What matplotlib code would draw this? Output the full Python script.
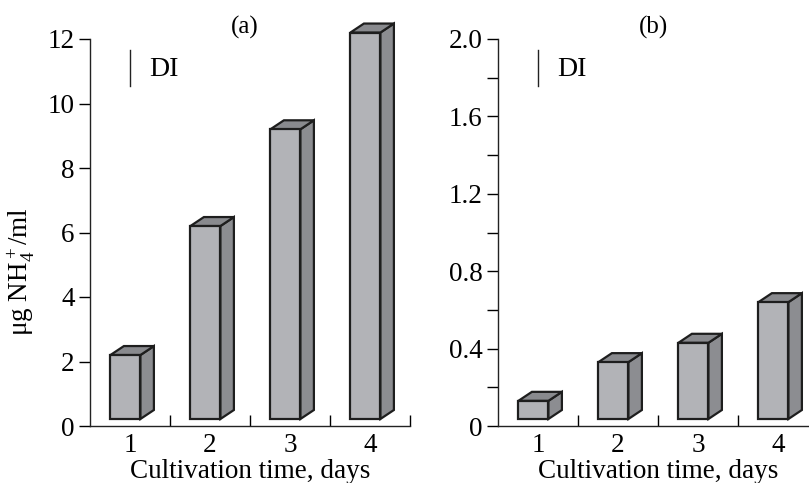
import numpy as np
import matplotlib.pyplot as plt
from matplotlib.patches import Polygon

plt.rcParams['font.family'] = ['Liberation Serif', 'DejaVu Serif']
plt.rcParams['mathtext.fontset'] = 'custom'
plt.rcParams['mathtext.rm'] = 'Liberation Serif'
plt.rcParams['mathtext.it'] = 'Liberation Serif:italic'

days = [1, 2, 3, 4]
nh4_a = [2.2, 6.2, 9.2, 12.2]
nh4_b = [0.13, 0.33, 0.43, 0.64]
yticks_a = [0, 2, 4, 6, 8, 10, 12]
yticks_b = [0, 0.4, 0.8, 1.2, 1.6, 2.0]

FRONT = '#b2b3b7'
SIDE = '#8c8d91'
TOP = '#898a8e'
EDGE = '#1e1e1e'

W, H = 809, 483
fig = plt.figure(figsize=(W / 100, H / 100), dpi=100)


def bar3d(ax, x, val, ymax, ax_w_px, ax_h_px):
    # pixel sizes converted into data units
    xpp = 4.0 / ax_w_px
    ypp = ymax / ax_h_px
    x0 = x - 0.245
    x1 = x + 0.13
    dx = 13.5 * xpp
    dy = 9 * ypp
    base = 7 * ypp
    kw = dict(edgecolor=EDGE, linewidth=1.6, joinstyle='miter', clip_on=False)
    ax.add_patch(Polygon([(x1, base), (x1 + dx, base + dy), (x1 + dx, val + dy), (x1, val)],
                         facecolor=SIDE, **kw))
    ax.add_patch(Polygon([(x0, val), (x0 + dx, val + dy), (x1 + dx, val + dy), (x1, val)],
                         facecolor=TOP, **kw))
    ax.add_patch(Polygon([(x0, base), (x1, base), (x1, val), (x0, val)],
                         facecolor=FRONT, **kw))


def panel(left_px, vals, ymax, yticks, ylabels, minor, title, ylabel=None):
    ax_w, ax_h = 320, 387
    ax = fig.add_axes([left_px / W, (H - 426) / H, ax_w / W, ax_h / H])
    ax.set_xlim(0.5, 4.5)
    ax.set_ylim(0, ymax)
    for s in ['top', 'right']:
        ax.spines[s].set_visible(False)
    for s in ['left', 'bottom']:
        ax.spines[s].set_linewidth(1.0)
        ax.spines[s].set_color('#222222')
    for d, v in zip(days, vals):
        bar3d(ax, d, v, ymax, ax_w, ax_h)
    ax.set_xticks(days)
    ax.set_xticklabels([str(d) for d in days], fontsize=19.5)
    ax.set_xticks([1.5, 2.5, 3.5, 4.5], minor=True)
    ax.tick_params(axis='x', which='major', length=0, pad=5)
    ax.tick_params(axis='x', which='minor', direction='in', length=8, width=1.0)
    ax.set_yticks(yticks)
    ax.set_yticklabels(ylabels, fontsize=19.5)
    if minor:
        ax.set_yticks(minor, minor=True)
    ax.tick_params(axis='y', which='both', direction='out', length=8, width=1.0, pad=3)
    ax.set_xlabel('Cultivation time, days', fontsize=19.5, labelpad=1)
    ax.set_title(title, fontsize=18, pad=1, x=0.485)
    # legend mark
    ax.plot([0.995, 0.995], [ymax * (376 / 387), ymax * (340 / 387)], color='#222222', lw=1.0)
    ax.text(1.24, ymax * (357 / 387), 'DI', fontsize=20, va='center', ha='left')
    if ylabel:
        ax.set_ylabel(ylabel, fontsize=19.5)
        ax.yaxis.set_label_coords(-0.165, 0.40)
    return ax


panel(90, nh4_a, 12, yticks_a, [str(t) for t in yticks_a], None, '(a)',
      ylabel='μg NH$_4^+$/ml')
panel(498, nh4_b, 2.0, yticks_b, ['0', '0.4', '0.8', '1.2', '1.6', '2.0'],
      [0.2, 0.6, 1.0, 1.4, 1.8], '(b)')

fig.savefig('out.png', dpi=100)
